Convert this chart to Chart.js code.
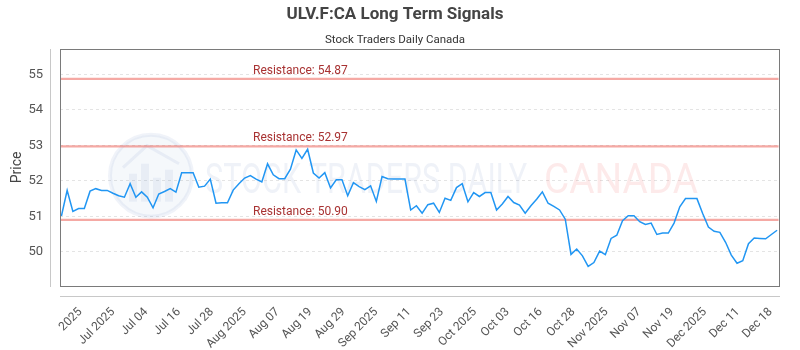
<!DOCTYPE html>
<html>
<head>
<meta charset="utf-8">
<script src="https://cdn.jsdelivr.net/npm/chart.js@4.4.0/dist/chart.umd.min.js"></script>
<style>
  html, body { margin: 0; padding: 0; background: #ffffff; }
  #wrap { width: 800px; height: 350px; position: relative; }
</style>
</head>
<body>
<div id="wrap"><canvas id="chart"></canvas></div>
<script>
// ---- data ----
const chartTitle = 'ULV.F:CA Long Term Signals';
const chartSubtitle = 'Stock Traders Daily Canada';
const yAxisTitle = 'Price';

const priceValues = [
  51.01, 51.73, 51.14, 51.22, 51.22, 51.71, 51.78, 51.73, 51.73, 51.65,
  51.58, 51.54, 51.92, 51.54, 51.69, 51.54, 51.24, 51.63, 51.70, 51.78,
  51.68, 52.23, 52.23, 52.23, 51.82, 51.85, 52.05, 51.37, 51.38, 51.38,
  51.74, 51.92, 52.08, 52.15, 52.05, 51.97, 52.48, 52.17, 52.06, 52.06,
  52.33, 52.87, 52.63, 52.89, 52.22, 52.08, 52.23, 51.80, 52.03, 52.03,
  51.58, 51.95, 51.84, 51.75, 51.86, 51.42, 52.12, 52.06, 52.05, 52.05,
  52.05, 51.18, 51.30, 51.09, 51.33, 51.37, 51.11, 51.51, 51.45, 51.81,
  51.92, 51.41, 51.67, 51.56, 51.67, 51.67, 51.18, 51.35, 51.56, 51.39,
  51.32, 51.09, 51.30, 51.48, 51.69, 51.37, 51.28, 51.18, 50.92, 49.93,
  50.08, 49.89, 49.59, 49.70, 50.02, 49.92, 50.38, 50.47, 50.88, 51.02,
  51.02, 50.85, 50.77, 50.81, 50.49, 50.53, 50.53, 50.81, 51.27, 51.50,
  51.50, 51.50, 51.08, 50.70, 50.58, 50.55, 50.27, 49.91, 49.68, 49.75,
  50.23, 50.39, 50.38, 50.37, 50.49, 50.61
];

const resistanceLevels = [54.87, 52.97, 50.90];

const xTickLabels = [
  '2025', 'Jul 2025', 'Jul 04', 'Jul 16', 'Jul 28', 'Aug 2025', 'Aug 07',
  'Aug 19', 'Aug 29', 'Sep 2025', 'Sep 11', 'Sep 23', 'Oct 2025', 'Oct 03',
  'Oct 16', 'Oct 28', 'Nov 2025', 'Nov 07', 'Nov 19', 'Dec 2025', 'Dec 11',
  'Dec 18'
];
const yTickValues = [50, 51, 52, 53, 54, 55];

// ---- axis layout constants ----
const Y_MIN = 49.04, Y_MAX = 55.72;
const X_MIN = -0.25, X_MAX = 125.25;
const X_TICK_FIRST = 3.3, X_TICK_STEP = 5.742;

const points = priceValues.map((v, i) => ({ x: i, y: v }));

const FONT = 'Roboto';

const decorPlugin = {
  id: 'decor',
  beforeDatasetsDraw(chart) {
    const { ctx, chartArea: a, scales } = chart;
    const y = scales.y;
    ctx.save();
    ctx.beginPath();
    ctx.rect(a.left, a.top, a.right - a.left, a.bottom - a.top);
    ctx.clip();
    // watermark logo circle
    const cx = a.left + 91, cy = a.top + 127, r = 41;
    ctx.beginPath();
    ctx.arc(cx, cy, r, 0, Math.PI * 2);
    ctx.fillStyle = 'rgba(120,150,200,0.07)';
    ctx.fill();
    ctx.lineWidth = 4;
    ctx.strokeStyle = 'rgba(120,150,200,0.11)';
    ctx.stroke();
    ctx.fillStyle = 'rgba(120,150,200,0.10)';
    ctx.fillRect(cx - 22, cy - 2, 8, 28);
    ctx.fillRect(cx - 10, cy - 12, 8, 38);
    ctx.fillRect(cx + 2, cy + 2, 8, 24);
    ctx.fillRect(cx + 14, cy - 6, 8, 32);
    ctx.beginPath();
    ctx.moveTo(cx - 28, cy - 8);
    ctx.lineTo(cx - 4, cy - 30);
    ctx.lineTo(cx + 28, cy - 12);
    ctx.strokeStyle = 'rgba(120,150,200,0.12)';
    ctx.lineWidth = 3;
    ctx.stroke();
    // watermark text
    ctx.textBaseline = 'alphabetic';
    ctx.textAlign = 'left';
    ctx.font = '400 42px ' + FONT;
    const t1 = 'STOCK TRADERS DAILY';
    let w1 = ctx.measureText(t1).width;
    ctx.save();
    ctx.translate(a.left + 145, a.top + 144);
    ctx.scale(322 / w1, 1);
    ctx.fillStyle = 'rgba(110,140,190,0.11)';
    ctx.fillText(t1, 0, 0);
    ctx.restore();
    const t2 = 'CANADA';
    let w2 = ctx.measureText(t2).width;
    ctx.save();
    ctx.translate(a.left + 484, a.top + 144);
    ctx.scale(154 / w2, 1);
    ctx.fillStyle = 'rgba(240,80,80,0.12)';
    ctx.fillText(t2, 0, 0);
    ctx.restore();
    ctx.restore();

    // resistance lines and labels
    ctx.save();
    resistanceLevels.forEach(lv => {
      const py = y.getPixelForValue(lv);
      ctx.beginPath();
      ctx.moveTo(a.left, py);
      ctx.lineTo(a.right, py);
      ctx.lineWidth = 2.2;
      ctx.strokeStyle = 'rgba(238,112,104,0.6)';
      ctx.stroke();
      ctx.font = '12px ' + FONT;
      ctx.fillStyle = '#a83232';
      ctx.textAlign = 'left';
      ctx.textBaseline = 'middle';
      ctx.fillText('Resistance: ' + lv.toFixed(2), a.left + 193, py - 8);
    });
    ctx.restore();
  },
  afterDraw(chart) {
    const { ctx, chartArea: a } = chart;
    ctx.save();
    ctx.lineWidth = 1;
    ctx.strokeStyle = '#7a7a7a';
    ctx.strokeRect(Math.round(a.left) + 0.5, Math.round(a.top) + 0.5,
      Math.round(a.right - a.left), Math.round(a.bottom - a.top));
    ctx.strokeStyle = '#c8c8c8';
    ctx.beginPath();
    ctx.moveTo(Math.round(a.left) - 9.5, Math.round(a.top));
    ctx.lineTo(Math.round(a.left) - 9.5, Math.round(a.bottom) + 1);
    ctx.moveTo(Math.round(a.left), Math.round(a.bottom) + 10.5);
    ctx.lineTo(Math.round(a.right) + 1, Math.round(a.bottom) + 10.5);
    ctx.stroke();
    ctx.restore();
  }
};

new Chart(document.getElementById('chart'), {
  type: 'line',
  data: {
    datasets: [{
      data: points,
      borderColor: '#2196f3',
      borderWidth: 1.5,
      pointRadius: 0,
      tension: 0,
      fill: false
    }]
  },
  options: {
    responsive: true,
    maintainAspectRatio: false,
    animation: false,
    layout: { padding: { left: 0, right: 10, top: 0, bottom: 0 } },
    plugins: {
      legend: { display: false },
      tooltip: { enabled: false },
      title: {
        display: true, text: chartTitle, color: '#444',
        font: { family: FONT, size: 17, weight: 'bold' },
        padding: { top: 5, bottom: 7.5 }
      },
      subtitle: {
        display: true, text: chartSubtitle, color: '#333',
        font: { family: FONT, size: 11.5 },
        padding: { top: 0, bottom: 2 }
      }
    },
    scales: {
      x: {
        type: 'linear', min: X_MIN, max: X_MAX,
        grid: { display: false, drawTicks: false },
        border: { display: false },
        ticks: {
          autoSkip: false, maxRotation: 45, minRotation: 45, padding: 19,
          color: '#555', font: { family: FONT, size: 12 },
          callback: (v, i) => xTickLabels[i]
        },
        afterBuildTicks: s => {
          s.ticks = xTickLabels.map((_, k) => ({ value: X_TICK_FIRST + k * X_TICK_STEP }));
        },
        afterFit: s => { s.height = 64; }
      },
      y: {
        type: 'linear', min: Y_MIN, max: Y_MAX,
        grid: { color: '#e4e4e4', drawTicks: false },
        border: { display: false, dash: [3, 3] },
        ticks: {
          padding: 17, color: '#555', font: { family: FONT, size: 13 },
          callback: v => String(v)
        },
        afterBuildTicks: s => {
          s.ticks = yTickValues.map(v => ({ value: v }));
        },
        title: {
          display: true, text: yAxisTitle, color: '#444',
          font: { family: FONT, size: 14 }, padding: { top: 9, bottom: 0 }
        },
        afterFit: s => { s.width = 60; }
      }
    }
  },
  plugins: [decorPlugin]
});
</script>
</body>
</html>
